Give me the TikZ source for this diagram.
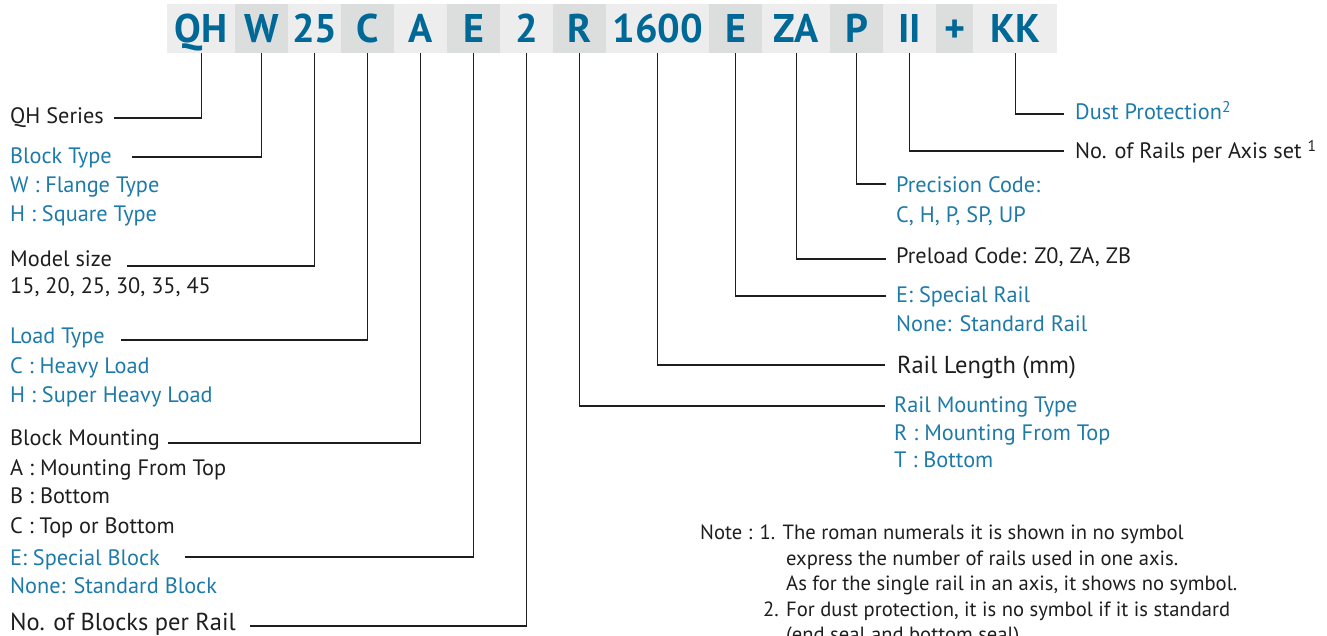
\documentclass[tikz,border=0pt]{standalone}
\usepackage{fontspec}
\setmainfont{PT Sans}
\definecolor{hdr}{RGB}{0,104,150}
\definecolor{lbl}{RGB}{30,122,168}
\definecolor{bandA}{RGB}{237,237,237}
\definecolor{bandB}{RGB}{220,222,222}
\definecolor{ink}{RGB}{30,30,30}
\begin{document}
\begin{tikzpicture}[x=1pt,y=-1pt,
  code/.style={anchor=north west, inner sep=0pt, minimum height=49pt, text height=28pt, text depth=0pt, text=hdr, font=\fontsize{40}{40}\selectfont\bfseries},
  ca/.style={code, fill=bandA},
  cb/.style={code, fill=bandB},
  lab/.style={anchor=base west, inner sep=0pt, text=ink, font=\fontsize{22.3}{22.3}\selectfont},
  blab/.style={lab, text=lbl},
  big/.style={lab, font=\fontsize{24.5}{24.5}\selectfont},
  note/.style={lab, font=\fontsize{20.6}{20.6}\selectfont},
  conn/.style={draw=ink, line width=1.2pt}
]
\useasboundingbox (0,0) rectangle (1327,636);
% header band
\node[ca, minimum width=68pt] (qh) at (167,4) {QH};
\node[cb, minimum width=53pt] (w) at (235,4) {W};
\node[ca, minimum width=53pt] (s25) at (288,4) {25};
\node[cb, minimum width=53pt] (c) at (341,4) {C};
\node[ca, minimum width=53pt] (a) at (394,4) {A};
\node[cb, minimum width=53pt] (e) at (447,4) {E};
\node[ca, minimum width=53pt] (two) at (500,4) {2};
\node[cb, minimum width=53pt] (r) at (553,4) {R};
\node[ca, minimum width=103pt] (len) at (606,4) {1600};
\node[cb, minimum width=53pt] (er) at (709,4) {E};
\node[ca, minimum width=68pt] (za) at (762,4) {ZA};
\node[cb, minimum width=53pt] (p) at (830,4) {P};
\node[ca, minimum width=53pt] (ii) at (883,4) {II};
\node[cb, minimum width=37pt] (plus) at (936,4) {+};
\node[ca, minimum width=84pt] (kk) at (973,4) {KK};

% left labels
\node[lab] (qhs) at (10,124) {QH Series};
\node[blab] (bt) at (10,164) {Block Type};
\node[blab] (bt1) at (10,193) {W : Flange Type};
\node[blab] (bt2) at (10,222) {H : Square Type};
\node[lab] (ms) at (10,266) {Model size};
\node[lab] (ms1) at (10,294) {15, 20, 25, 30, 35, 45};
\node[blab] (lt) at (10,343) {Load Type};
\node[blab] (lt1) at (10,373) {C : Heavy Load};
\node[blab] (lt2) at (10,402) {H : Super Heavy Load};
\node[lab] (bm) at (10,445) {Block Mounting};
\node[lab] (bm1) at (10,475) {A : Mounting From Top};
\node[lab] (bm2) at (10,503) {B : Bottom};
\node[lab] (bm3) at (10,533) {C : Top or Bottom};
\node[blab] (sb) at (10,565) {E: Special Block};
\node[blab] (sb1) at (10,593) {None: Standard Block};
\node[big] (nb) at (10,630) {No. of Blocks per Rail};

% right labels
\node[blab] (dp) at (1075,120) {Dust Protection\textsuperscript{2}};
\node[lab] (nr) at (1075,159) {No. of Rails per Axis set \textsuperscript{1}};
\node[blab] (pc) at (896,193) {Precision Code:};
\node[blab] (pc1) at (896,223) {C, H, P, SP, UP};
\node[lab] (pl) at (896,263) {Preload Code: Z0, ZA, ZB};
\node[blab] (sr) at (896,302) {E: Special Rail};
\node[blab] (sr1) at (896,331) {None: Standard Rail};
\node[big] (rl) at (897,373) {Rail Length (mm)};
\node[blab] (rm) at (894,412) {Rail Mounting Type};
\node[blab] (rm1) at (894,440) {R : Mounting From Top};
\node[blab] (rm2) at (894,467) {T : Bottom};

% notes
\node[note] (nt1) at (700,539) {Note : 1. The roman numerals it is shown in no symbol};
\node[note] (nt2) at (786,565) {express the number of rails used in one axis.};
\node[note] (nt3) at (786,590) {As for the single rail in an axis, it shows no symbol.};
\node[note] (nt4) at (763,616) {2. For dust protection, it is no symbol if it is standard};
\node[note] (nt5) at (786,641) {(end seal and bottom seal)};

% connector ends
\coordinate (e-qh) at (114,118);
\coordinate (e-w) at (132,157);
\coordinate (e-25) at (127,266);
\coordinate (e-c) at (121,340);
\coordinate (e-a) at (168,443);
\coordinate (e-e) at (185,557);
\coordinate (e-2) at (250,626);
\coordinate (e-r) at (885,406);
\coordinate (e-len) at (885,365);
\coordinate (e-er) at (886,296);
\coordinate (e-za) at (886,259);
\coordinate (e-p) at (886,184);
\coordinate (e-ii) at (1064,151);
\coordinate (e-kk) at (1064,114);

\draw[conn] (qh.south) |- (e-qh);
\draw[conn] (w.south) |- (e-w);
\draw[conn] (s25.south) |- (e-25);
\draw[conn] (c.south) |- (e-c);
\draw[conn] (a.south) |- (e-a);
\draw[conn] (e.south) |- (e-e);
\draw[conn] (two.south) |- (e-2);
\draw[conn] (r.south) |- (e-r);
\draw[conn] (len.south) |- (e-len);
\draw[conn] (er.south) |- (e-er);
\draw[conn] (za.south) |- (e-za);
\draw[conn] (p.south) |- (e-p);
\draw[conn] (ii.south) |- (e-ii);
\draw[conn] (kk.south) |- (e-kk);
\end{tikzpicture}
\end{document}
